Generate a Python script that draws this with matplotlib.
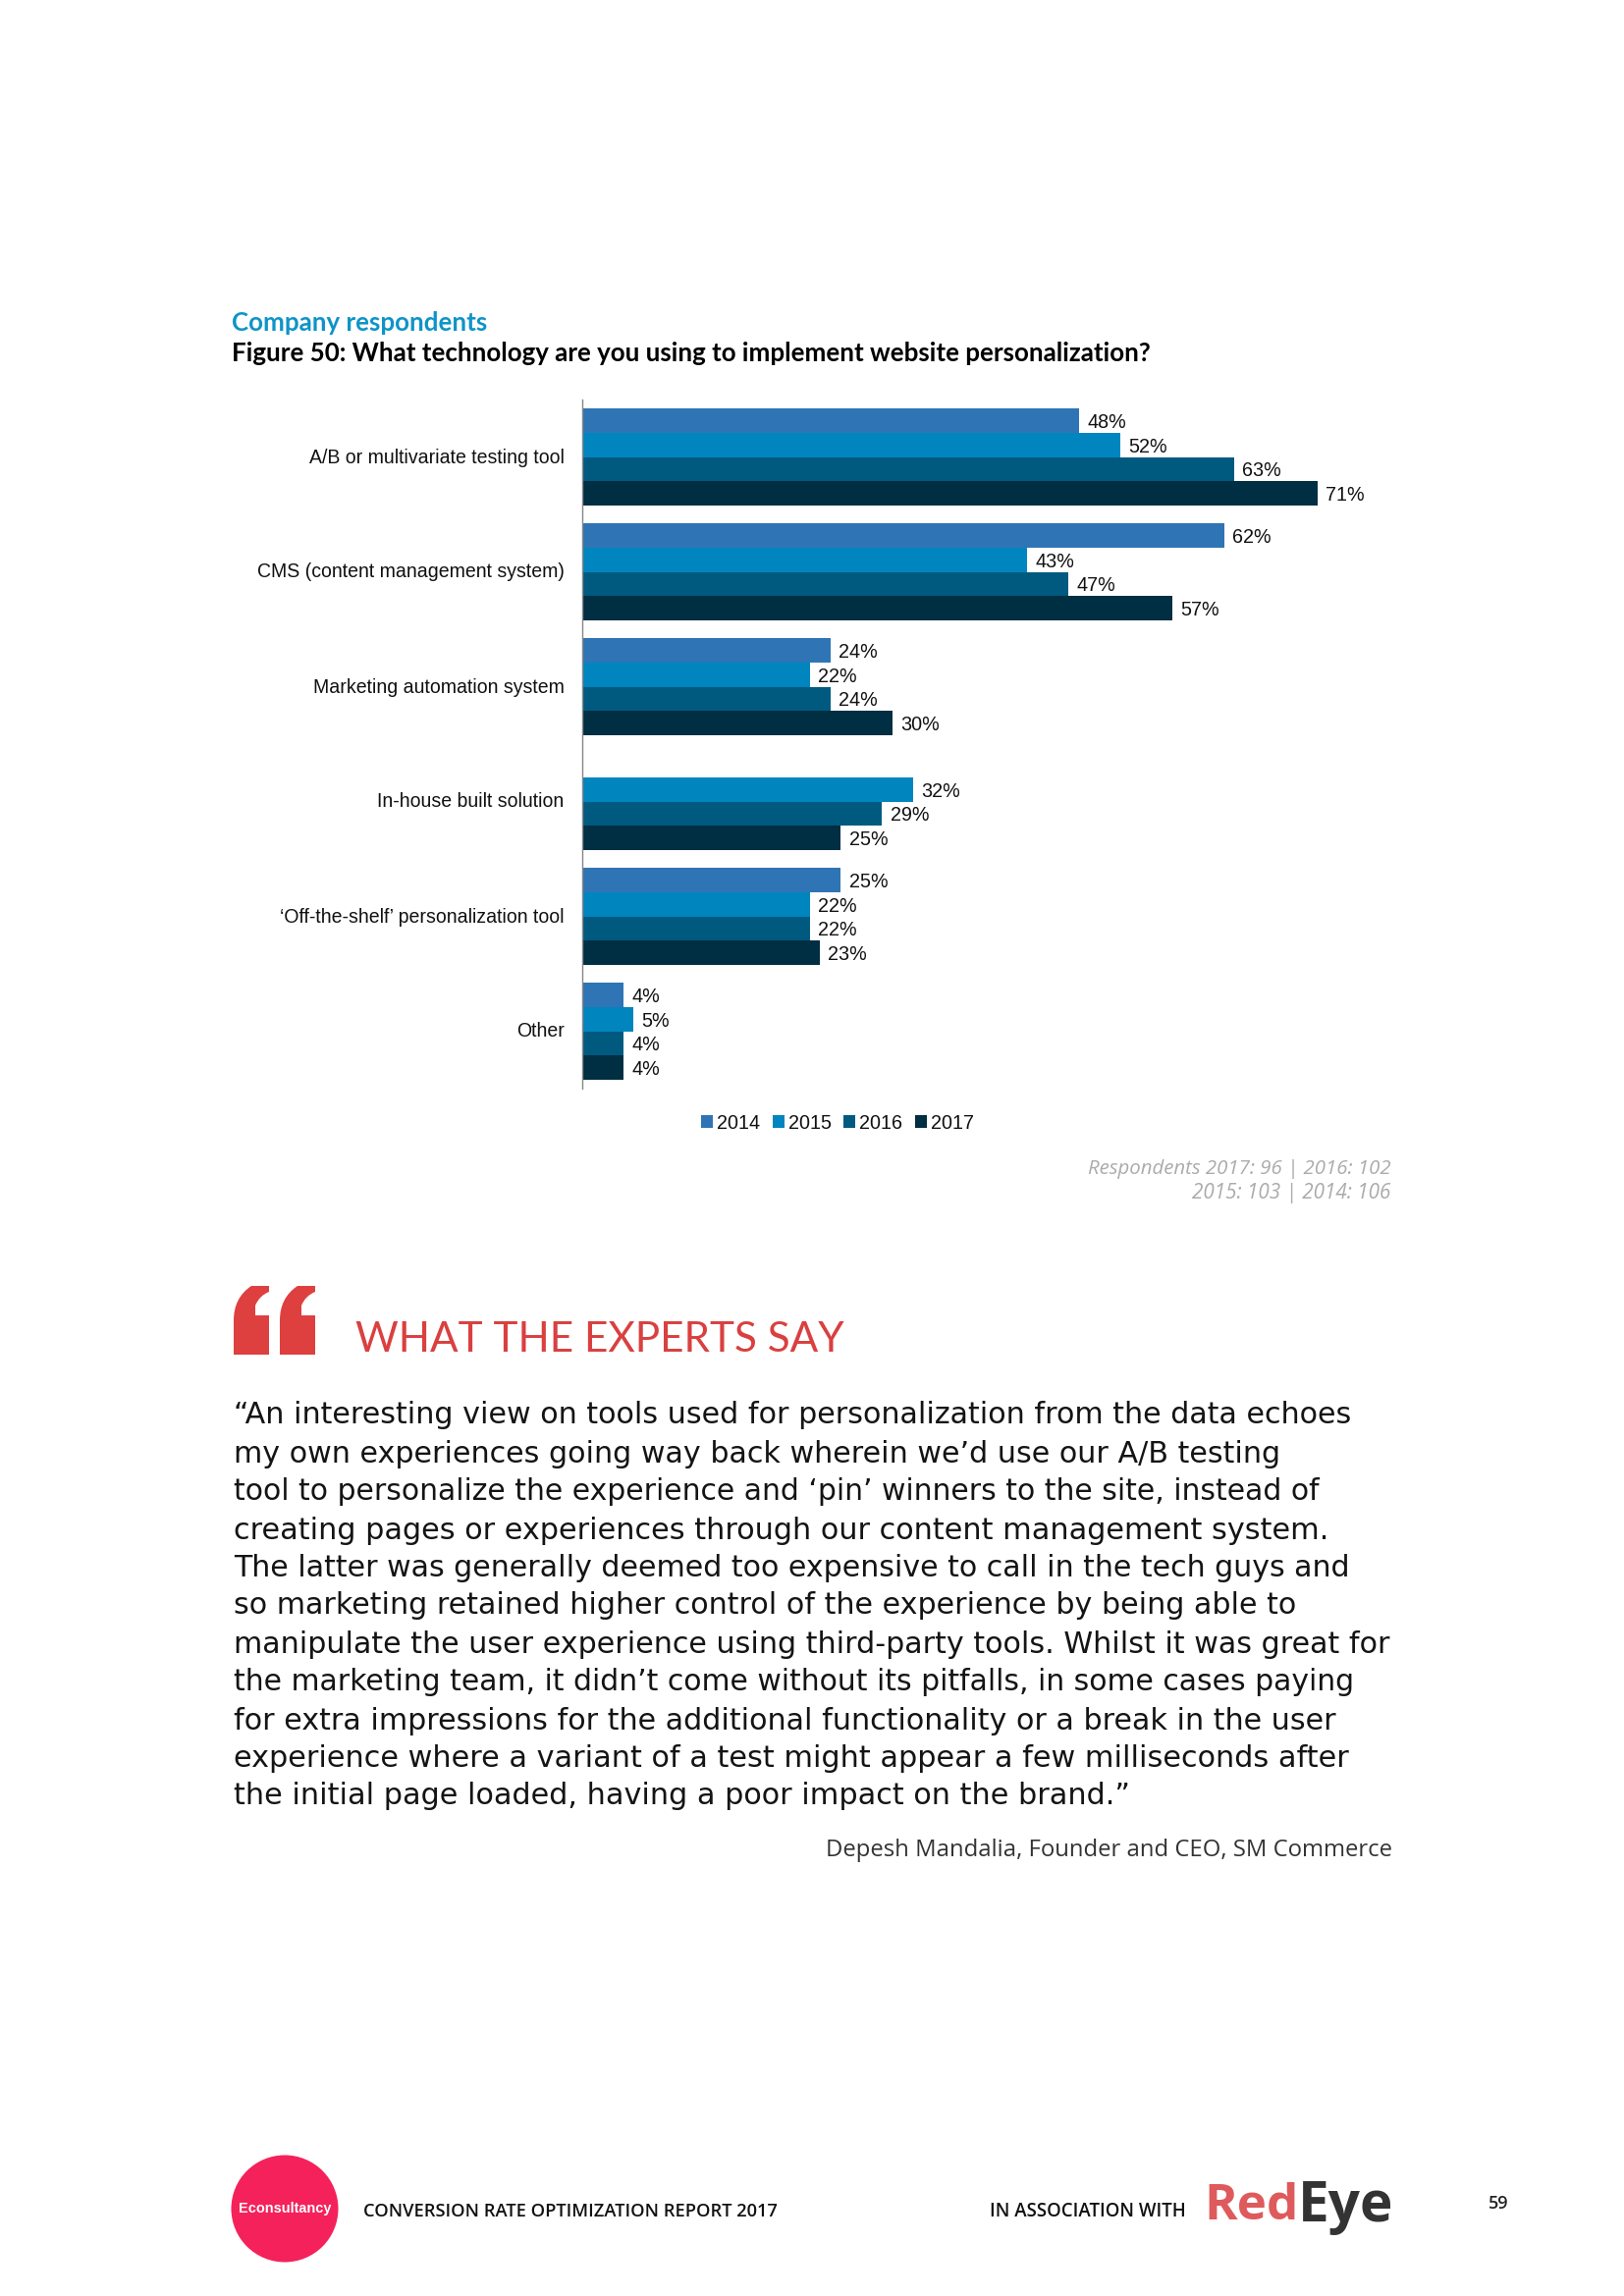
import numpy as np
import matplotlib
matplotlib.use("Agg")
import matplotlib.pyplot as plt
from matplotlib.path import Path
from matplotlib.patches import PathPatch, Circle
from matplotlib.transforms import ScaledTranslation

W, H = 1654, 2339
years = ["2014", "2015", "2016", "2017"]
categories = ["A/B or multivariate testing tool", "CMS (content management system)",
              "Marketing automation system", "In-house built solution",
              "\u2018Off-the-shelf\u2019 personalization tool", "Other"]
v2014 = [48, 62, 24, np.nan, 25, 4]
v2015 = [52, 43, 22, 32, 22, 5]
v2016 = [63, 47, 24, 29, 22, 4]
v2017 = [71, 57, 30, 25, 23, 4]
series = [v2014, v2015, v2016, v2017]
colors = ["#2F75B5", "#0085BF", "#005A80", "#002E42"]
body_lines = [
    "\u201cAn interesting view on tools used for personalization from the data echoes",
    "my own experiences going way back wherein we\u2019d use our A/B testing",
    "tool to personalize the experience and \u2018pin\u2019 winners to the site, instead of",
    "creating pages or experiences through our content management system.",
    "The latter was generally deemed too expensive to call in the tech guys and",
    "so marketing retained higher control of the experience by being able to",
    "manipulate the user experience using third-party tools. Whilst it was great for",
    "the marketing team, it didn\u2019t come without its pitfalls, in some cases paying",
    "for extra impressions for the additional functionality or a break in the user",
    "experience where a variant of a test might appear a few milliseconds after",
    "the initial page loaded, having a poor impact on the brand.\u201d",
]
body_y = [1442, 1481, 1520, 1559, 1597, 1636, 1675, 1714, 1753, 1791, 1830]
body_right = [1382, 1306, 1347, 1356, 1376, 1325, 1420, 1385, 1364, 1373, 1153]

fig = plt.figure(figsize=(W / 100, H / 100), dpi=100, facecolor="white")

# page layer in pixel coordinates
page = fig.add_axes([0, 0, 1, 1])
page.set_xlim(0, W)
page.set_ylim(H, 0)
page.axis("off")
renderer = fig.canvas.get_renderer()


def fit(s, x0, x1, y, size=14, **kw):
    """Place text between pixel x0 and x1, scaling the font size to the width."""
    t = page.text(x0, y, s, fontsize=size, ha="left", va="center", **kw)
    w = t.get_window_extent(renderer).width
    t.set_fontsize(size * (x1 - x0) / w)
    return t


# chart
ax = fig.add_axes([592.5 / W, 1 - 1109 / H, (1420 - 592.5) / W, (1109 - 407) / H])
ypos = np.arange(len(categories))
bar_h = 0.2115
for i, (yr, vals, col) in enumerate(zip(years, series, colors)):
    bars = ax.barh(ypos + (i - 1.5) * bar_h, vals, height=bar_h, color=col, label=yr, linewidth=0)
    labs = ax.bar_label(bars, labels=["" if np.isnan(v) else f"{v:.0f}%" for v in vals],
                        padding=6, fontsize=14.2, family="Liberation Sans", color="#111111")
    for lab in labs:
        lab.xyann = (lab.xyann[0], -1.5)
ax.set_xlim(0, (1420 - 592.5) / 10.55)
ax.set_ylim(len(categories) - 0.5, -0.5)
ax.set_yticks(ypos, categories)
ax.tick_params(axis="y", length=0, pad=12.8, labelsize=14.05, labelcolor="#111111")
nudge = ScaledTranslation(0, 1.5 / 100, fig.dpi_scale_trans)
for lab in ax.get_yticklabels():
    lab.set_family("Liberation Sans")
    lab.set_transform(lab.get_transform() + nudge)
ax.xaxis.set_visible(False)
for s in ["top", "right", "bottom"]:
    ax.spines[s].set_visible(False)
ax.spines["left"].set_color("#868686")
ax.spines["left"].set_linewidth(1.0)
ax.patch.set_alpha(0)
fig.legend(loc="center", bbox_to_anchor=(853 / W, 1 - 1144 / H), ncol=4, frameon=False,
           prop={"family": "Liberation Sans", "size": 14.2}, handlelength=0.62, handleheight=0.62,
           handletextpad=0.2, columnspacing=0.62, labelcolor="#111111")

# headings
fit("Company respondents", 236, 497, 329, family="Lato", weight="bold", color="#0E94C8")
fit("Figure 50: What technology are you using to implement website personalization?",
    236, 1173, 360, family="Lato", weight="bold", color="black")
for s, y, x0 in [("Respondents 2017: 96 | 2016: 102", 1191, 1108), ("2015: 103 | 2014: 106", 1215, 1214)]:
    fit(s, x0, 1417, y, family="Open Sans", style="italic", color="#ABABAB")

# quote glyph shape
for dx in (0, 47):
    verts = [(238 + dx, 1380), (238 + dx, 1345), (238 + dx, 1322), (256 + dx, 1310), (274 + dx, 1310),
             (274 + dx, 1316), (264 + dx, 1320), (260 + dx, 1330), (260 + dx, 1340), (274 + dx, 1340),
             (274 + dx, 1380), (238 + dx, 1380)]
    codes = [Path.MOVETO, Path.LINETO, Path.CURVE3, Path.CURVE3, Path.LINETO, Path.LINETO, Path.CURVE3,
             Path.CURVE3, Path.LINETO, Path.LINETO, Path.LINETO, Path.CLOSEPOLY]
    page.add_patch(PathPatch(Path(verts, codes), facecolor="#DE403F", edgecolor="none"))

fit("WHAT THE EXPERTS SAY", 362, 861, 1365, family="Lato", color="#D9403F")
for line, y, r in zip(body_lines, body_y, body_right):
    fit(line, 238, r, y, family="DejaVu Sans", color="#141414")
fit("Depesh Mandalia, Founder and CEO, SM Commerce", 841, 1421, 1885, family="Open Sans", color="#333333")

# footer
page.add_patch(Circle((290, 2250), 54.5, facecolor="#F5215A", edgecolor="none"))
fit("Econsultancy", 243, 338, 2250, family="Liberation Sans", weight="bold", color="white")
fit("CONVERSION RATE OPTIMIZATION REPORT 2017", 370, 793, 2253, family="Open Sans", weight="semibold", color="#111111")
fit("IN ASSOCIATION WITH", 1008, 1209, 2253, family="Open Sans", weight="semibold", color="#111111")
fit("Red", 1226, 1323, 2248, family="Open Sans", weight="bold", color="#DE5A5C")
fit("Eye", 1322, 1420, 2248, family="Open Sans", weight="bold", color="#333333")
page.text(1526, 2245, "59", ha="center", va="center", fontsize=13, family="Open Sans", weight="semibold", color="#222222")

fig.savefig("out.png", dpi=100, facecolor="white")
